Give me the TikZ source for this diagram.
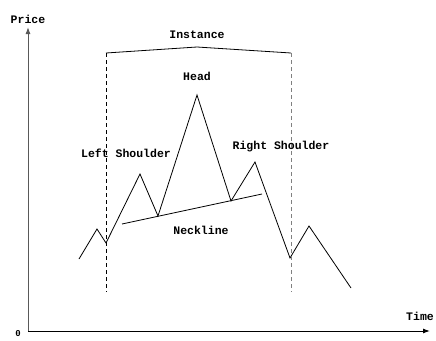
\documentclass[tikz,border=0pt]{standalone}
\usepackage{fontspec}
\setmainfont{Liberation Mono}
\usetikzlibrary{arrows.meta}
\begin{document}
\begin{tikzpicture}[x=1pt,y=-1pt,
  lbl/.style={font=\fontsize{11.5}{13}\selectfont\bfseries, inner sep=0pt},
  price/.style={line width=0.8pt, line join=miter},
  guide/.style={dashed, line width=0.8pt, dash pattern=on 4pt off 3pt}]
\useasboundingbox (0,0) rectangle (436,340);
% axes
\coordinate (O) at (28,331);
\coordinate (Ytop) at (28,27);
\coordinate (Xend) at (430,331);
\draw[gray!70!black, line width=1pt, -{Latex[length=7pt,width=5pt]}] (O) -- (Ytop);
\draw[line width=1pt, -{Latex[length=7pt,width=5pt]}] (O) -- (Xend);
\node[lbl] (price) at (28,19) {Price};
\node[lbl] (time) at (420,316) {Time};
\node[lbl, font=\fontsize{9}{10}\selectfont\bfseries] (zero) at (18,334) {0};
% price path
\coordinate (p1) at (79,259);
\coordinate (p2) at (97,229);
\coordinate (p3) at (106,243);
\coordinate (p4) at (140,174);
\coordinate (p5) at (158,216);
\coordinate (p6) at (197,95);
\coordinate (p7) at (231,201);
\coordinate (p8) at (255,162);
\coordinate (p9) at (290,258);
\coordinate (p10) at (309,226);
\coordinate (p11) at (351,288);
\draw[price] (p1) -- (p2) -- (p3) -- (p4) -- (p5) -- (p6) -- (p7) -- (p8) -- (p9) -- (p10) -- (p11);
% neckline
\coordinate (n1) at (122,224);
\coordinate (n2) at (262,194);
\draw[price] (n1) -- (n2);
% instance bracket
\coordinate (bl) at (106,53);
\coordinate (bm) at (197,47);
\coordinate (br) at (291,53);
\coordinate (dl) at (106,292);
\coordinate (dr) at (291,292);
\draw[price] (bl) -- (bm) -- (br);
\draw[guide] (bl) -- (dl);
\draw[guide, gray] (br) -- (dr);
% labels
\node[lbl] (inst) at (197,35) {Instance};
\node[lbl] (head) at (197,76) {Head};
\node[lbl] (ls) at (126,153) {Left Shoulder};
\node[lbl] (rs) at (281,147) {Right Shoulder};
\node[lbl] (neck) at (201,230) {Neckline};
\end{tikzpicture}
\end{document}
